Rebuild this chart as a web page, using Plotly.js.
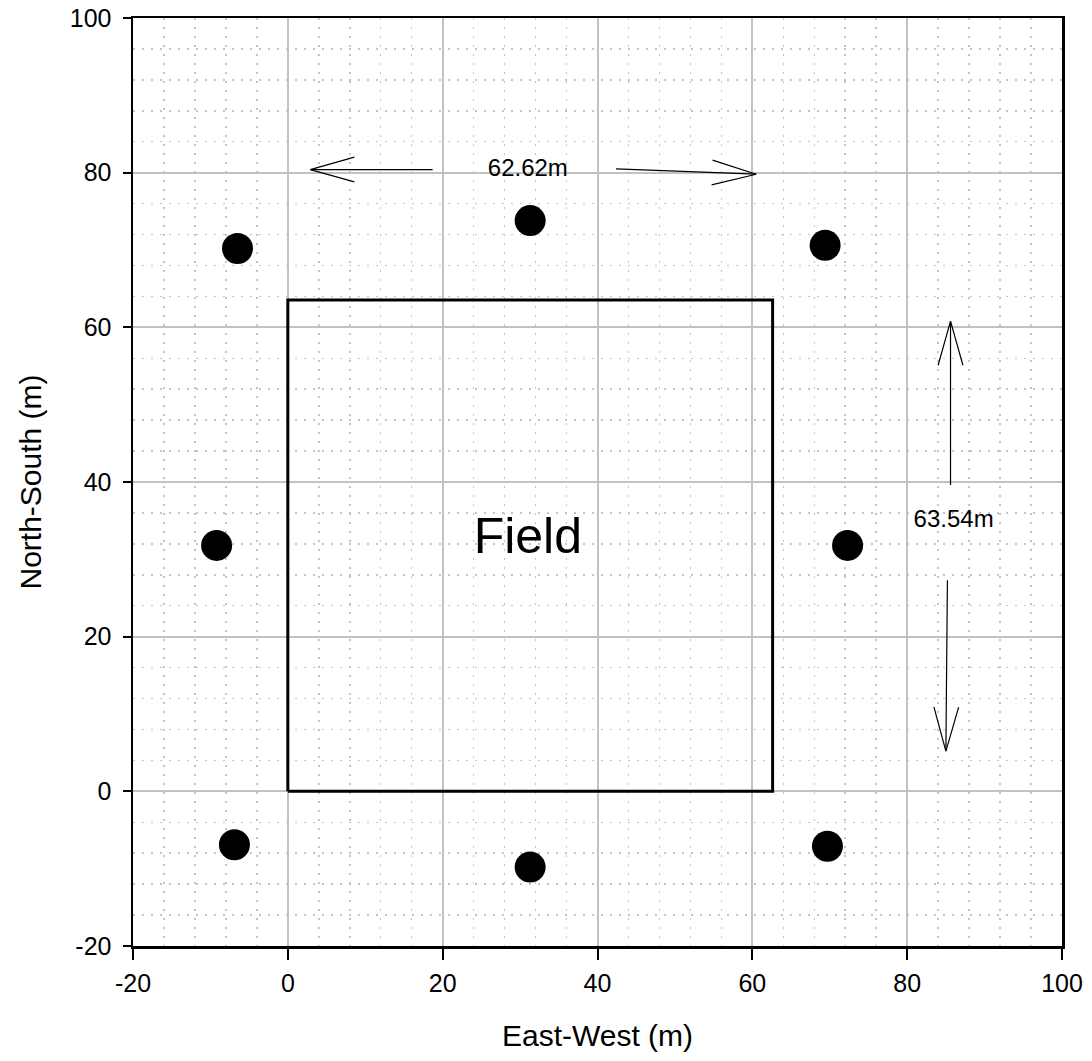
<!DOCTYPE html>
<html>
<head>
<meta charset="utf-8">
<script src="https://cdn.plot.ly/plotly-3.0.1.min.js"></script>
<style>html,body{margin:0;padding:0;background:#fff;}#chart{width:1092px;height:1061px;}</style>
</head>
<body>
<div id="chart"></div>
<script>
// Tower / light positions (m)
const towerX = [-6.5, 31.3, 69.4, -9.2, 72.3, -6.9, 31.3, 69.7];
const towerY = [70.2, 73.8, 70.6, 31.8, 31.8, -6.9, -9.8, -7.1];

// Field rectangle (m)
const fieldX = [0, 62.62, 62.62, 0, 0];
const fieldY = [0, 0, 63.54, 63.54, 0];
const fieldLabel = "Field";
const fieldLabelX = 31;
const fieldLabelY = 32.4;

// Dimension arrows: shaft start -> tip
const arrowStartX = [18.7, 42.4, 85.6, 85.2];
const arrowStartY = [80.4, 80.5, 39.6, 27.3];
const arrowTipX   = [2.9, 60.5, 85.6, 85.0];
const arrowTipY   = [80.4, 79.8, 60.8, 5.2];

// Dimension labels
const dimLabels = ["62.62m", "63.54m"];
const dimLabelX = [31, 86];
const dimLabelY = [80.3, 34.9];

// Axis ticks
const tickVals = [-20, 0, 20, 40, 60, 80, 100];
const tickText = ["-20", "0", "20", "40", "60", "80", "100"];

// Build arrow polyline (shaft + open V head)
const ax = [], ay = [];
const headLen = 5.7, headHalf = 1.6;
for (let i = 0; i < arrowStartX.length; i++) {
  const sx = arrowStartX[i], sy = arrowStartY[i], tx = arrowTipX[i], ty = arrowTipY[i];
  const dx = tx - sx, dy = ty - sy, L = Math.hypot(dx, dy);
  const ux = dx / L, uy = dy / L, px = -uy, py = ux;
  ax.push(sx, tx, null);
  ay.push(sy, ty, null);
  ax.push(tx - ux * headLen + px * headHalf, tx, tx - ux * headLen - px * headHalf, null);
  ay.push(ty - uy * headLen + py * headHalf, ty, ty - uy * headLen - py * headHalf, null);
}

const font = "Arial, 'Liberation Sans', sans-serif";

const traces = [
  {x: fieldX, y: fieldY, mode: 'lines', line: {color: '#000', width: 3}, hoverinfo: 'skip', showlegend: false},
  {x: ax, y: ay, mode: 'lines', line: {color: '#000', width: 1.2}, hoverinfo: 'skip', showlegend: false},
  {x: towerX, y: towerY, mode: 'markers', marker: {color: '#000', size: 31, line: {width: 0}}, showlegend: false},
  {x: [fieldLabelX], y: [fieldLabelY], mode: 'text', text: [fieldLabel], textfont: {family: font, size: 50, color: '#000'}, showlegend: false, hoverinfo: 'skip'},
  {x: dimLabelX, y: dimLabelY, mode: 'text', text: dimLabels, textfont: {family: font, size: 24, color: '#000'}, showlegend: false, hoverinfo: 'skip'}
];

const axisCommon = {
  range: [-20, 100],
  tickvals: tickVals,
  ticktext: tickText,
  ticks: 'outside',
  tickwidth: 2,
  tickcolor: '#000',
  showline: true,
  linecolor: '#000',
  linewidth: 2.5,
  mirror: true,
  showgrid: true,
  gridcolor: '#c2c2c2',
  gridwidth: 2,
  zeroline: false,
  tickfont: {family: font, size: 25, color: '#000'},
  minor: {dtick: 4, showgrid: true, gridcolor: '#c4c4c4', griddash: '2px,7px', gridwidth: 1.5, ticks: ''}
};

const layout = {
  width: 1092,
  height: 1061,
  margin: {l: 133, r: 30, t: 18, b: 115},
  paper_bgcolor: '#fff',
  plot_bgcolor: '#fff',
  xaxis: Object.assign({}, axisCommon, {
    ticklen: 11,
    ticklabelstandoff: 2,
    title: {text: 'East-West (m)', font: {family: font, size: 30, color: '#000'}, standoff: 30}
  }),
  yaxis: Object.assign({}, axisCommon, {
    ticklen: 8,
    ticklabelstandoff: 6,
    title: {text: 'North-South (m)', font: {family: font, size: 30, color: '#000'}, standoff: 20}
  }),
  showlegend: false
};

Plotly.newPlot('chart', traces, layout, {staticPlot: true});
</script>
</body>
</html>
